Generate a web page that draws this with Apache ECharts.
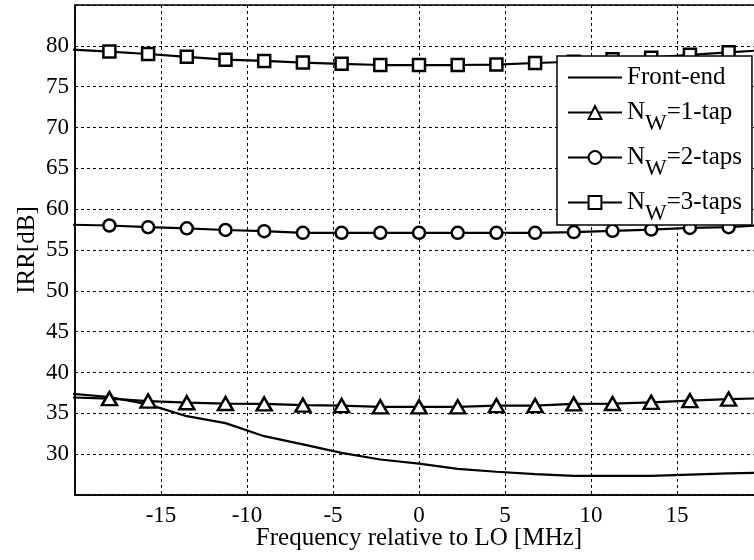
<!DOCTYPE html>
<html>
<head>
<meta charset="utf-8">
<script src="https://cdn.jsdelivr.net/npm/echarts@6/dist/echarts.min.js"></script>
<style>
  html, body { margin: 0; padding: 0; background: #fff; }
  #chart { width: 754px; height: 560px; }
</style>
</head>
<body>
<div id="chart"></div>
<script>
// Frequency offsets (MHz) where the IRR curves are sampled
const freqMHz = [-20.25, -18, -15.75, -13.5, -11.25, -9, -6.75, -4.5, -2.25, 0,
                 2.25, 4.5, 6.75, 9, 11.25, 13.5, 15.75, 18, 20.25];

// Image rejection ratio (dB) for each configuration
const frontEnd = [37.4, 37.0, 36.1, 34.65, 33.8, 32.2, 31.2, 30.15, 29.35, 28.85,
                  28.2, 27.85, 27.55, 27.35, 27.35, 27.35, 27.5, 27.65, 27.75];
const taps1 = [36.95, 36.8, 36.5, 36.3, 36.2, 36.15, 36.0, 35.95, 35.8, 35.8,
               35.8, 35.95, 35.95, 36.15, 36.2, 36.35, 36.55, 36.75, 36.85];
const taps2 = [58.1, 58.0, 57.8, 57.65, 57.45, 57.3, 57.1, 57.1, 57.1, 57.1,
               57.1, 57.1, 57.1, 57.2, 57.35, 57.5, 57.7, 57.8, 58.1];
const taps3 = [79.55, 79.3, 79.0, 78.65, 78.3, 78.15, 77.95, 77.8, 77.65, 77.65,
               77.65, 77.7, 77.9, 78.05, 78.35, 78.55, 78.9, 79.2, 79.5];

const seriesNames = ['Front-end', 'N_W=1-tap', 'N_W=2-taps', 'N_W=3-taps'];

// Axis ranges
const xRange = [-20, 20, 5];
const yRange = [25, 85, 5];
const xLabel = 'Frequency relative to LO [MHz]';
const yLabel = 'IRR[dB]';

const FONT = '"Liberation Serif", "DejaVu Serif", serif';

function pairs(ys) {
  return freqMHz.map((x, i) => [x, ys[i]]);
}

function markedSeries(name, ys, symbol, size) {
  return {
    name: name,
    type: 'line',
    data: pairs(ys),
    symbol: symbol,
    symbolSize: size,
    showAllSymbol: true,
    lineStyle: { color: '#000', width: 2.2 },
    itemStyle: { color: '#fff', borderColor: '#000', borderWidth: 2.5 },
    emphasis: { disabled: true },
    z: 3
  };
}

// Legend label: "_W" becomes a subscript W
function legendText(name) {
  return name.replace('_W', '{w|W}');
}

const chart = echarts.init(document.getElementById('chart'), null, { renderer: 'canvas' });

chart.setOption({
  animation: false,
  backgroundColor: '#fff',
  textStyle: { fontFamily: FONT, color: '#000' },
  grid: {
    left: 75, top: 5, bottom: 65, right: -9,
    outerBoundsMode: 'none',
    show: true, borderColor: '#000', borderWidth: 1.5, backgroundColor: 'transparent'
  },
  xAxis: {
    type: 'value',
    min: xRange[0], max: xRange[1], interval: xRange[2],
    name: xLabel,
    nameLocation: 'middle',
    nameGap: 31,
    nameMoveOverlap: false,
    nameTextStyle: { fontFamily: FONT, fontSize: 25, color: '#000' },
    axisLine: { show: true, onZero: false, lineStyle: { color: '#000', width: 1.5 } },
    axisTick: { show: false },
    axisLabel: {
      fontFamily: FONT, fontSize: 23, color: '#000', margin: 9,
      formatter: v => (v === xRange[0] || v === xRange[1]) ? '' : String(v)
    },
    splitLine: { show: true, lineStyle: { color: '#000', width: 1, type: [3, 3] } }
  },
  yAxis: {
    type: 'value',
    min: yRange[0], max: yRange[1], interval: yRange[2],
    name: yLabel,
    nameLocation: 'middle',
    nameGap: 35,
    nameMoveOverlap: false,
    nameTextStyle: { fontFamily: FONT, fontSize: 25, color: '#000' },
    axisLine: { show: true, onZero: false, lineStyle: { color: '#000', width: 1.5 } },
    axisTick: { show: false },
    axisLabel: {
      fontFamily: FONT, fontSize: 23, color: '#000', margin: 6,
      formatter: v => (v === yRange[0] || v === yRange[1]) ? '' : String(v)
    },
    splitLine: { show: true, lineStyle: { color: '#000', width: 1, type: [3, 3] } }
  },
  legend: {
    orient: 'vertical',
    left: 557, top: 56,
    padding: [9, 10, 0, 10],
    itemWidth: 54, itemHeight: 16, itemGap: 10,
    backgroundColor: '#fff',
    borderColor: '#000', borderWidth: 1.5,
    selectedMode: false,
    data: [
      { name: seriesNames[0], itemStyle: { color: 'transparent', borderWidth: 0 } },
      seriesNames[1], seriesNames[2], seriesNames[3]
    ],
    formatter: legendText,
    textStyle: {
      fontFamily: FONT, fontSize: 25, color: '#000',
      rich: {
        w: { fontFamily: FONT, fontSize: 23, color: '#000', padding: [18, 0, -4, 0] }
      }
    }
  },
  series: [
    {
      name: seriesNames[0],
      type: 'line',
      data: pairs(frontEnd),
      symbol: 'none',
      lineStyle: { color: '#000', width: 2.2 },
      itemStyle: { color: '#000' },
      emphasis: { disabled: true },
      z: 2
    },
    markedSeries(seriesNames[1], taps1, 'triangle', [15, 13]),
    markedSeries(seriesNames[2], taps2, 'circle', 12),
    markedSeries(seriesNames[3], taps3, 'rect', 12)
  ]
});
</script>
</body>
</html>
